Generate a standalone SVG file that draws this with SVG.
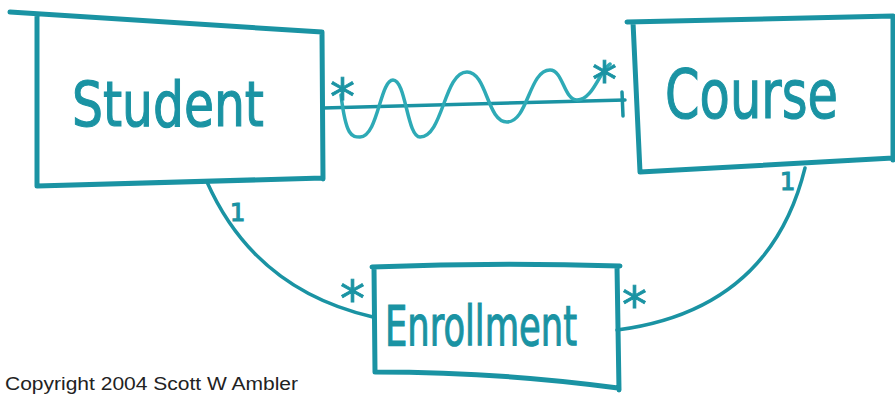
<svg xmlns="http://www.w3.org/2000/svg" width="895" height="402" viewBox="0 0 895 402">
<style>
.box{fill:none;stroke:#1a93a3;stroke-width:5;stroke-linecap:round;stroke-linejoin:round}
.line{fill:none;stroke:#1a93a3;stroke-width:3.5;stroke-linecap:round}
.wave{fill:none;stroke:#2eaab6;stroke-width:3.5;stroke-linecap:round}
.hand{fill:#1a93a3;stroke:#1a93a3;stroke-width:1.2;font-family:"DejaVu Sans","Liberation Sans",sans-serif}
.mult{fill:#1a93a3;stroke:#1a93a3;stroke-width:0.8;font-family:"DejaVu Sans","Liberation Sans",sans-serif;font-size:50px}
.copy{fill:#222;font-family:"Liberation Sans",Arial,sans-serif;font-size:18px}
</style>
<rect width="895" height="402" fill="#fff"/>
<g id="connectors">
  <path class="line" d="M323,108 L625,100"/>
  <path class="line" d="M622,92 L623,116"/>
  <path class="wave" d="M341,95 C346,137 352,137 360,137 C378,137 380,80 393,80 C406,80 407,137 420,137 C443,137 444,72 467,72 C487,72 487,122 507,122 C528,122 529,70 550,70 C563,70 564,100 577,100 C593,100 600,70 610,64"/>
  <path class="line" d="M207,182 Q255,290 373,317"/>
  <path class="line" d="M617,330 Q770,310 805,168"/>
  <text class="mult" x="330" y="114">*</text>
  <text class="mult" x="592" y="97">*</text>
  <text class="hand" x="230" y="221" font-size="24">1</text>
  <text class="mult" x="340" y="316">*</text>
  <text class="mult" x="622" y="322">*</text>
  <text class="hand" x="780" y="190" font-size="24">1</text>
</g>
<g id="student">
  <path class="box" d="M10,12 L322,32 M322,32 L323,179 M37,186 L323,178 M37,14 L37,186"/>
  <text class="hand" x="72" y="126" font-size="62" textLength="192" lengthAdjust="spacingAndGlyphs">Student</text>
</g>
<g id="course">
  <path class="box" d="M627,22 L893,16 M633,22 L640,172 M640,172 L893,158 M893,16 L893,160"/>
  <text class="hand" x="665" y="118" font-size="68" textLength="173" lengthAdjust="spacingAndGlyphs">Course</text>
</g>
<g id="enrollment">
  <path class="box" d="M372,267 Q495,262 620,266 M374,267 L375,372 M375,372 Q500,372 618,388 M617,266 L619,390"/>
  <text class="hand" x="385" y="345" font-size="56" textLength="192" lengthAdjust="spacingAndGlyphs">Enrollment</text>
</g>
<text class="copy" x="5" y="390" textLength="293" lengthAdjust="spacingAndGlyphs">Copyright 2004  Scott W Ambler</text>
</svg>
